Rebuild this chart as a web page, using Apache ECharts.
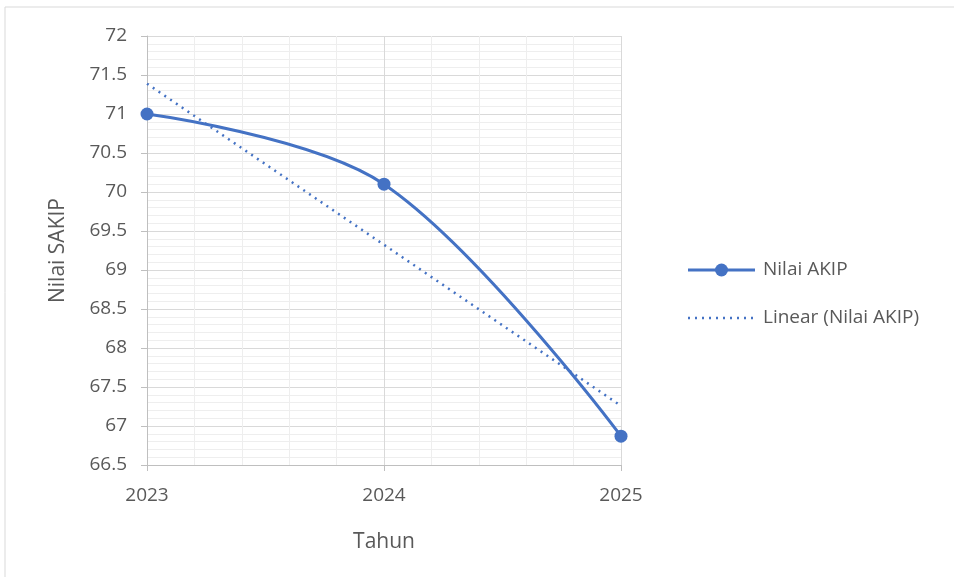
<!DOCTYPE html>
<html>
<head>
<meta charset="utf-8">
<script src="https://cdn.jsdelivr.net/npm/echarts@6/dist/echarts.min.js"></script>
<style>
  html, body { margin: 0; padding: 0; background: #ffffff; }
  #chart { width: 954px; height: 577px; }
</style>
</head>
<body>
<div id="chart"></div>
<script>
// Nilai AKIP per tahun
const years = [2023, 2024, 2025];
const akipValues = [71.0, 70.1, 66.87];
const seriesNames = ['Nilai AKIP', 'Linear (Nilai AKIP)'];
const yTicks = { min: 66.5, max: 72, step: 0.5 };

// Least-squares trend line over the same years
function linearFit(xs, ys) {
  const n = xs.length;
  const mx = xs.reduce((a, b) => a + b, 0) / n;
  const my = ys.reduce((a, b) => a + b, 0) / n;
  let sxy = 0, sxx = 0;
  for (let i = 0; i < n; i++) {
    sxy += (xs[i] - mx) * (ys[i] - my);
    sxx += (xs[i] - mx) * (xs[i] - mx);
  }
  const slope = sxy / sxx;
  return x => my + slope * (x - mx);
}
const trend = linearFit(years, akipValues);
const trendData = [years[0], years[years.length - 1]].map(x => [x, trend(x)]);
const akipData = years.map((y, i) => [y, akipValues[i]]);

const FONT = '"Open Sans", sans-serif';
const BLUE = '#4472C4';
const TEXT = '#595959';
const DOTS = [2, 5];

// Legend drawn as graphic elements: solid line with marker, then dotted trend line
const legendX = 688, legendY1 = 270, legendY2 = 318, legendLen = 67;
const legendGraphics = [
  { type: 'line', shape: { x1: legendX, y1: legendY1, x2: legendX + legendLen, y2: legendY1 },
    style: { stroke: BLUE, lineWidth: 3 } },
  { type: 'circle', shape: { cx: legendX + legendLen / 2, cy: legendY1, r: 6.5 },
    style: { fill: BLUE } },
  { type: 'text', x: legendX + legendLen + 8, y: legendY1, style: {
      text: seriesNames[0], fill: TEXT, font: '19px ' + FONT, verticalAlign: 'middle' } },
  { type: 'line', shape: { x1: legendX, y1: legendY2, x2: legendX + legendLen, y2: legendY2 },
    style: { stroke: BLUE, lineWidth: 2.5, lineDash: DOTS } },
  { type: 'text', x: legendX + legendLen + 8, y: legendY2, style: {
      text: seriesNames[1], fill: TEXT, font: '19px ' + FONT, verticalAlign: 'middle' } }
];

const chart = echarts.init(document.getElementById('chart'), null, { renderer: 'canvas' });
chart.setOption({
  backgroundColor: '#ffffff',
  animation: false,
  graphic: [{
    type: 'rect',
    shape: { x: 5, y: 7, width: 960, height: 580 },
    style: { fill: 'none', stroke: '#d9d9d9', lineWidth: 1 },
    silent: true
  }].concat(legendGraphics),
  grid: { left: 147, top: 36, right: 333, bottom: 112, containLabel: false },
  xAxis: {
    type: 'value',
    min: years[0],
    max: years[years.length - 1],
    interval: 1,
    name: 'Tahun',
    nameLocation: 'middle',
    nameGap: 67,
    nameTextStyle: { color: TEXT, fontSize: 21, fontFamily: FONT },
    axisLine: { show: true, lineStyle: { color: '#bfbfbf', width: 1 } },
    axisTick: { show: true, length: 6, lineStyle: { color: '#bfbfbf' } },
    axisLabel: { color: TEXT, fontSize: 19, fontFamily: FONT, margin: 21,
      formatter: v => String(v) },
    splitLine: { show: true, lineStyle: { color: '#d9d9d9', width: 1 } },
    minorTick: { show: false, splitNumber: 5 },
    minorSplitLine: { show: true, lineStyle: { color: '#eeeeee', width: 1 } }
  },
  yAxis: {
    type: 'value',
    min: yTicks.min,
    max: yTicks.max,
    interval: yTicks.step,
    name: 'Nilai SAKIP',
    nameLocation: 'middle',
    nameGap: 78,
    nameTextStyle: { color: TEXT, fontSize: 21, fontFamily: FONT },
    axisLine: { show: true, lineStyle: { color: '#bfbfbf', width: 1 } },
    axisTick: { show: true, length: 6, lineStyle: { color: '#bfbfbf' } },
    axisLabel: { color: TEXT, fontSize: 19, fontFamily: FONT, margin: 20 },
    splitLine: { show: true, lineStyle: { color: '#d9d9d9', width: 1 } },
    minorTick: { show: false, splitNumber: 5 },
    minorSplitLine: { show: true, lineStyle: { color: '#eeeeee', width: 1 } }
  },
  series: [
    {
      name: seriesNames[0],
      type: 'line',
      data: akipData,
      smooth: 0.35,
      symbol: 'circle',
      symbolSize: 13,
      itemStyle: { color: BLUE },
      lineStyle: { color: BLUE, width: 3 },
      z: 3
    },
    {
      name: seriesNames[1],
      type: 'line',
      data: trendData,
      symbol: 'none',
      itemStyle: { color: BLUE },
      lineStyle: { color: BLUE, width: 2.5, type: DOTS },
      z: 2
    }
  ]
});
</script>
</body>
</html>
